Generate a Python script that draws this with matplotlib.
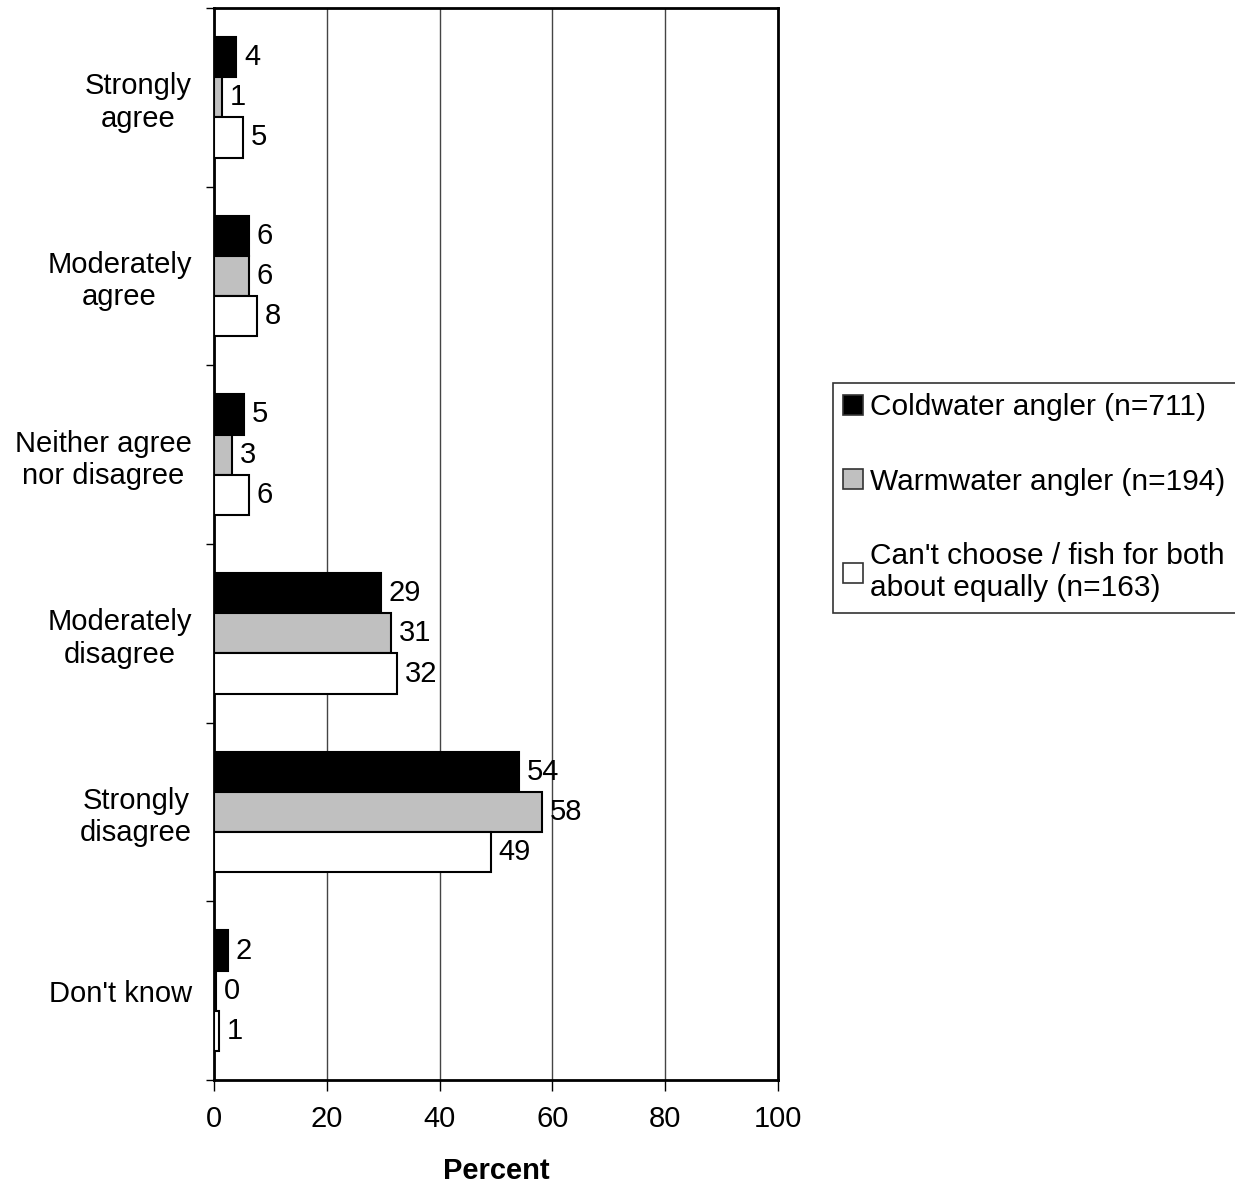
import numpy as np
import matplotlib.pyplot as plt
from matplotlib.patches import Patch

plt.rcParams["font.family"] = ["Liberation Sans", "DejaVu Sans"]

categories = ["Strongly\nagree", "Moderately\nagree", "Neither agree\nnor disagree",
              "Moderately\ndisagree", "Strongly\ndisagree", "Don't know"]
coldwater = [3.9, 6.2, 5.3, 29.6, 54.1, 2.4]
warmwater = [1.4, 6.2, 3.1, 31.4, 58.2, 0.4]
either = [5.1, 7.6, 6.2, 32.4, 49.1, 0.8]
labels_cold = [4, 6, 5, 29, 54, 2]
labels_warm = [1, 6, 3, 31, 58, 0]
labels_either = [5, 8, 6, 32, 49, 1]

series = [
    ("Coldwater angler (n=711)", coldwater, labels_cold, "black"),
    ("Warmwater angler (n=194)", warmwater, labels_warm, "#c0c0c0"),
    ("Can't choose / fish for both\nabout equally (n=163)", either, labels_either, "white"),
]

FS = 21

fig = plt.figure(figsize=(12.35, 11.87), dpi=100)
ax = fig.add_axes([0.1733, 0.0901, 0.4567, 0.9032])

y = np.arange(len(categories))
h = 0.225
for i, (name, vals, labs, color) in enumerate(series):
    pos = y + (i - 1) * h
    ax.barh(pos, vals, height=h, color=color, edgecolor="black", linewidth=1.5,
            label=name, zorder=3)
    for p, v, lab in zip(pos, vals, labs):
        ax.text(v + 1.4, p, str(lab), va="center", ha="left", fontsize=FS, zorder=4)

ax.set_xlim(0, 100)
ax.set_ylim(len(categories) - 0.5, -0.5)
ax.set_xticks([0, 20, 40, 60, 80, 100])
ax.tick_params(axis="x", labelsize=FS, length=8, width=1, pad=10, direction="out")
ax.xaxis.grid(True, color="#444444", linewidth=1, zorder=0)

ax.set_yticks(np.arange(len(categories) + 1) - 0.5)
ax.set_yticklabels([])
ax.tick_params(axis="y", which="major", length=6, width=1, direction="out")
ax.set_yticks(y, minor=True)
ax.set_yticklabels(categories, minor=True, fontsize=FS, multialignment="center")
ax.tick_params(axis="y", which="minor", length=0, pad=16)

for s in ax.spines.values():
    s.set_linewidth(2)

ax.set_xlabel("Percent", fontsize=FS, fontweight="bold", labelpad=17)

handles = [Patch(facecolor=c, edgecolor="#333333", linewidth=1.2) for _, _, _, c in series]
leg = fig.legend(handles, [n for n, _, _, _ in series], loc="upper left",
                 bbox_to_anchor=(833 / 1235, 1 - 383 / 1187), fontsize=21.5,
                 frameon=True, fancybox=False, edgecolor="black", borderpad=0.35,
                 labelspacing=1.55, handlelength=0.65, handleheight=0.65,
                 handletextpad=0.25, borderaxespad=0)
leg.get_frame().set_linewidth(1.2)

fig.savefig("out.png", dpi=100)
